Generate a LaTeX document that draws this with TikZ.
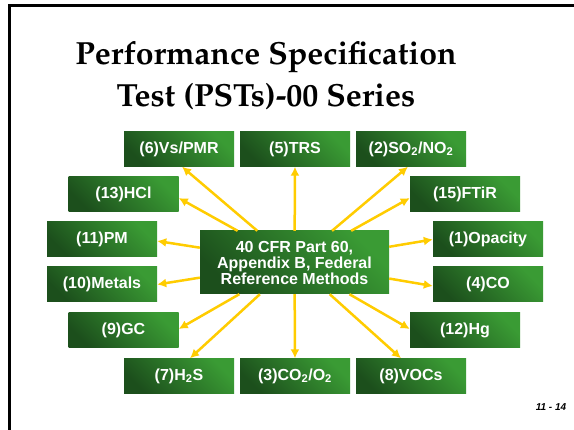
\documentclass[tikz,border=0pt]{standalone}
\usepackage{fontspec}
\setmainfont{Liberation Sans}
\usetikzlibrary{arrows.meta}
\definecolor{gl}{HTML}{3A9B34}
\definecolor{gd}{HTML}{1C4F1C}
\definecolor{arr}{HTML}{FFCC00}
\newcommand{\titlefont}{\fontencoding{OT1}\fontfamily{ppl}\fontseries{b}\fontshape{n}\fontsize{32}{36}\selectfont}
\begin{document}
\begin{tikzpicture}[x=1pt,y=-1pt,
  box/.style={minimum width=110pt, minimum height=35pt, inner sep=0pt,
    top color=gl, bottom color=gd, shading angle=-45, text=white,
    font=\bfseries\fontsize{16}{16}\selectfont},
  conn/.style={draw=arr, line width=2.5pt, -{Latex[length=9pt,width=9pt]}}]
\useasboundingbox (0,0) rectangle (574,430);
\fill[white] (0,0) rectangle (574,430);
\draw[line width=3.5pt] (9.5,430) -- (9.5,5.5) -- (574,5.5);
\node[font=\titlefont, anchor=base] (t1) at (266,65) {Performance Specification};
\node[font=\titlefont, anchor=base] (t2) at (266,107) {Test (PSTs)-00 Series};
\node[font=\bfseries\itshape\fontsize{10}{10}\selectfont, anchor=base] (pg) at (551,411) {11 - 14};

\node[box] (n6) at (179,149) {(6)Vs/PMR};
\node[box] (n5) at (295,149) {(5)TRS};
\node[box] (n2) at (411,149) {(2)SO\textsubscript{2}/NO\textsubscript{2}};
\node[box] (n13) at (123.5,194.5) {(13)HCl};
\node[box] (n15) at (465,194.5) {(15)FTiR};
\node[box] (n11) at (102,239.5) {(11)PM};
\node[box] (n1) at (488,239.5) {(1)Opacity};
\node[box] (n10) at (102,284.5) {(10)Metals};
\node[box] (n4) at (488,284.5) {(4)CO};
\node[box] (n9) at (123.5,330.5) {(9)GC};
\node[box] (n12) at (465,330.5) {(12)Hg};
\node[box] (n7) at (179,376) {(7)H\textsubscript{2}S};
\node[box] (n3) at (295,376) {(3)CO\textsubscript{2}/O\textsubscript{2}};
\node[box] (n8) at (411,376) {(8)VOCs};
\node[box, minimum width=189pt, minimum height=63pt, align=center] (c) at (294.5,262.5)
  {40 CFR Part 60,\\Appendix B, Federal\\Reference Methods};

\draw[conn] (c) -- ([xshift=3pt]n6.south);
\draw[conn] (c) -- (n5.south);
\draw[conn] (c) -- ([xshift=-3pt]n2.south);
\draw[conn] (c) -- ([yshift=-3.5pt]n13.east);
\draw[conn] (c) -- ([yshift=-3.5pt]n15.west);
\draw[conn] (c) -- ([yshift=-1.5pt]n11.east);
\draw[conn] (c) -- (n1.west);
\draw[conn] (c) -- (n10.east);
\draw[conn] (c) -- ([yshift=-1.5pt]n4.west);
\draw[conn] (c) -- ([yshift=1.5pt]n9.east);
\draw[conn] (c) -- ([yshift=1.5pt]n12.west);
\draw[conn] (c) -- ([xshift=11pt]n7.north);
\draw[conn] (c) -- (n3.north);
\draw[conn] (c) -- ([xshift=-10pt]n8.north);
\end{tikzpicture}
\end{document}
